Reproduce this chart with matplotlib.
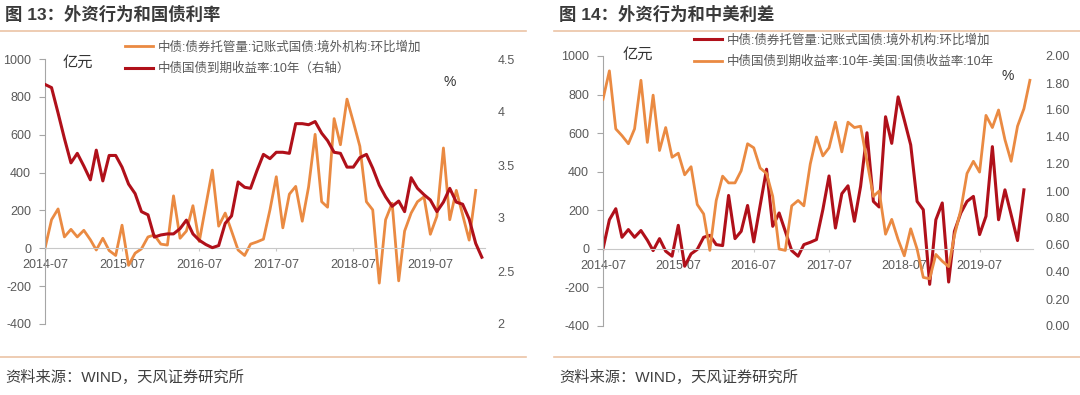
import pandas as pd
import matplotlib
matplotlib.use("Agg")
import matplotlib.pyplot as plt
import matplotlib.dates as mdates
from matplotlib.lines import Line2D
from matplotlib.ticker import FuncFormatter

plt.rcParams['font.family'] = ['Liberation Sans', 'Noto Sans CJK SC']
plt.rcParams['axes.unicode_minus'] = False

# monthly data, 2014-07 onwards
flow = [0, 151, 208, 60, 100, 60, 95, 45, -9, 53,
        -12, -38, 122, -90, -26, -3, 60, 70, 22, 17,
        277, 53, 91, 225, 36, 225, 413, 117, 186, 91,
        -9, -38, 22, 34, 48, 203, 378, 108, 286, 327,
        143, 324, 602, 246, 217, 685, 547, 788, 668, 539,
        246, 203, -184, 151, 238, -172, 91, 186, 246, 272,
        74, 169, 530, 151, 306, 177, 43, 306]
cn10y = [4.26, 4.23, 3.99, 3.75, 3.52, 3.61, 3.49, 3.36, 3.64, 3.35,
         3.59, 3.59, 3.48, 3.32, 3.23, 3.06, 3.03, 2.82, 2.84, 2.85,
         2.85, 2.90, 2.98, 2.85, 2.79, 2.75, 2.72, 2.74, 2.95, 3.02,
         3.34, 3.29, 3.28, 3.45, 3.60, 3.56, 3.62, 3.62, 3.61, 3.89,
         3.89, 3.88, 3.91, 3.80, 3.73, 3.62, 3.61, 3.48, 3.48, 3.57,
         3.60, 3.47, 3.31, 3.20, 3.11, 3.16, 3.06, 3.38, 3.28, 3.22,
         3.17, 3.06, 3.15, 3.28, 3.15, 3.13, 2.99, 2.76, 2.63]
spread = [1.68, 1.89, 1.46, 1.41, 1.35, 1.46, 1.82, 1.36, 1.71, 1.30,
          1.47, 1.25, 1.28, 1.12, 1.18, 0.90, 0.83, 0.56, 0.93, 1.11,
          1.06, 1.06, 1.15, 1.35, 1.32, 1.17, 1.13, 0.96, 0.57, 0.56,
          0.89, 0.93, 0.89, 1.20, 1.40, 1.26, 1.32, 1.51, 1.29, 1.51,
          1.47, 1.48, 1.22, 0.96, 1.00, 0.68, 0.79, 0.64, 0.52, 0.72,
          0.57, 0.36, 0.35, 0.53, 0.48, 0.44, 0.67, 0.86, 1.13, 1.22,
          1.14, 1.56, 1.47, 1.60, 1.38, 1.22, 1.48, 1.61, 1.82]

flow_dates = pd.date_range('2014-07-01', periods=len(flow), freq='MS')
cn_dates = pd.date_range('2014-07-01', periods=len(cn10y), freq='MS')
spread_dates = pd.date_range('2014-07-01', periods=len(spread), freq='MS')

flow_label = '中债:债券托管量:记账式国债:境外机构:环比增加'
cn_label = '中债国债到期收益率:10年（右轴）'
spread_label = '中债国债到期收益率:10年-美国:国债收益率:10年'

ORANGE = '#EA8A42'
RED = '#B0101A'
GRAY = '#595959'
W, H = 1080, 395


def fx(px):
    return px / W


def fy(py):
    return 1 - py / H


def setup_axes(ax, ax_r, rlim, rticks, rfmt):
    ax.set_ylim(-400, 1000)
    ax.set_yticks(range(-400, 1001, 200))
    ax.set_xlim(pd.Timestamp('2014-07-01'), pd.Timestamp('2020-03-16'))
    ax.xaxis.set_major_locator(mdates.MonthLocator(bymonth=7))
    ax.xaxis.set_major_formatter(mdates.DateFormatter('%Y-%m'))
    for s in ['top', 'right']:
        ax.spines[s].set_visible(False)
    ax.spines['bottom'].set_position(('data', 0))
    ax.spines['bottom'].set_color('#C8C8C8')
    ax.spines['left'].set_color('#A6A6A6')
    ax.tick_params(axis='y', direction='out', length=4, color='#A6A6A6',
                   pad=6, labelsize=9, labelcolor=GRAY)
    ax.tick_params(axis='x', direction='out', length=2, color='#C8C8C8',
                   pad=6, labelsize=9, labelcolor=GRAY)
    ax_r.set_ylim(*rlim)
    ax_r.set_yticks(rticks)
    ax_r.yaxis.set_major_formatter(FuncFormatter(rfmt))
    for s in ax_r.spines.values():
        s.set_visible(False)
    ax_r.tick_params(axis='y', length=0, pad=9, labelsize=9, labelcolor=GRAY)
    ax.patch.set_visible(False)


fig = plt.figure(figsize=(10.8, 3.95), dpi=100)

# chart 13
ax1 = fig.add_axes([fx(45), fy(324), fx(485 - 45), (324 - 59) / H])
ax1r = ax1.twinx()
l1, = ax1.plot(flow_dates, flow, color=ORANGE, lw=2.0)
l2, = ax1r.plot(cn_dates, cn10y, color=RED, lw=2.2)
setup_axes(ax1, ax1r, (2, 4.5), [2, 2.5, 3, 3.5, 4, 4.5],
           lambda v, p: '%g' % v)
fig.legend([l1, l2], [flow_label, cn_label], loc='upper left',
           bbox_to_anchor=(fx(125), fy(41)), frameon=False, fontsize=9,
           labelcolor=GRAY, handlelength=2.2, handletextpad=0.4,
           labelspacing=0.75, borderaxespad=0, borderpad=0)

# chart 14
ax2 = fig.add_axes([fx(603), fy(326), fx(1033 - 603), (326 - 56) / H])
ax2r = ax2.twinx()
l3, = ax2.plot(flow_dates, flow, color=RED, lw=2.2)
l4, = ax2r.plot(spread_dates, spread, color=ORANGE, lw=2.0)
setup_axes(ax2, ax2r, (0, 2), [i * 0.2 for i in range(11)],
           lambda v, p: '%.2f' % v)
fig.legend([l3, l4], [flow_label, spread_label], loc='upper left',
           bbox_to_anchor=(fx(694), fy(34)), frameon=False, fontsize=9,
           labelcolor=GRAY, handlelength=2.2, handletextpad=0.4,
           labelspacing=0.75, borderaxespad=0, borderpad=0)

# unit labels
fig.text(fx(63), fy(63), '亿元', fontsize=11, color='#333333', va='center')
fig.text(fx(443), fy(82), '%', fontsize=10, color='#333333', va='center')
fig.text(fx(623), fy(55), '亿元', fontsize=11, color='#333333', va='center')
fig.text(fx(1002), fy(76), '%', fontsize=10, color='#333333', va='center')

# titles, rules and source notes
for x0, x1, title in [(0, 526, '图 13：外资行为和国债利率'),
                      (554, 1080, '图 14：外资行为和中美利差')]:
    fig.text(fx(x0 + 5), fy(14), title, fontsize=12.5, fontweight='bold',
             color='#3A3A3A', va='center')
    fig.add_artist(Line2D([fx(x0), fx(x1)], [fy(31), fy(31)],
                          color='#EBC3A6', lw=1.2))
    fig.add_artist(Line2D([fx(x0), fx(x1)], [fy(357), fy(357)],
                          color='#EBC3A6', lw=1.2))
    fig.text(fx(x0 + 5), fy(377), '资料来源：WIND，天风证券研究所',
             fontsize=11, color='#404040', va='center')

fig.savefig('out.png', dpi=100)
